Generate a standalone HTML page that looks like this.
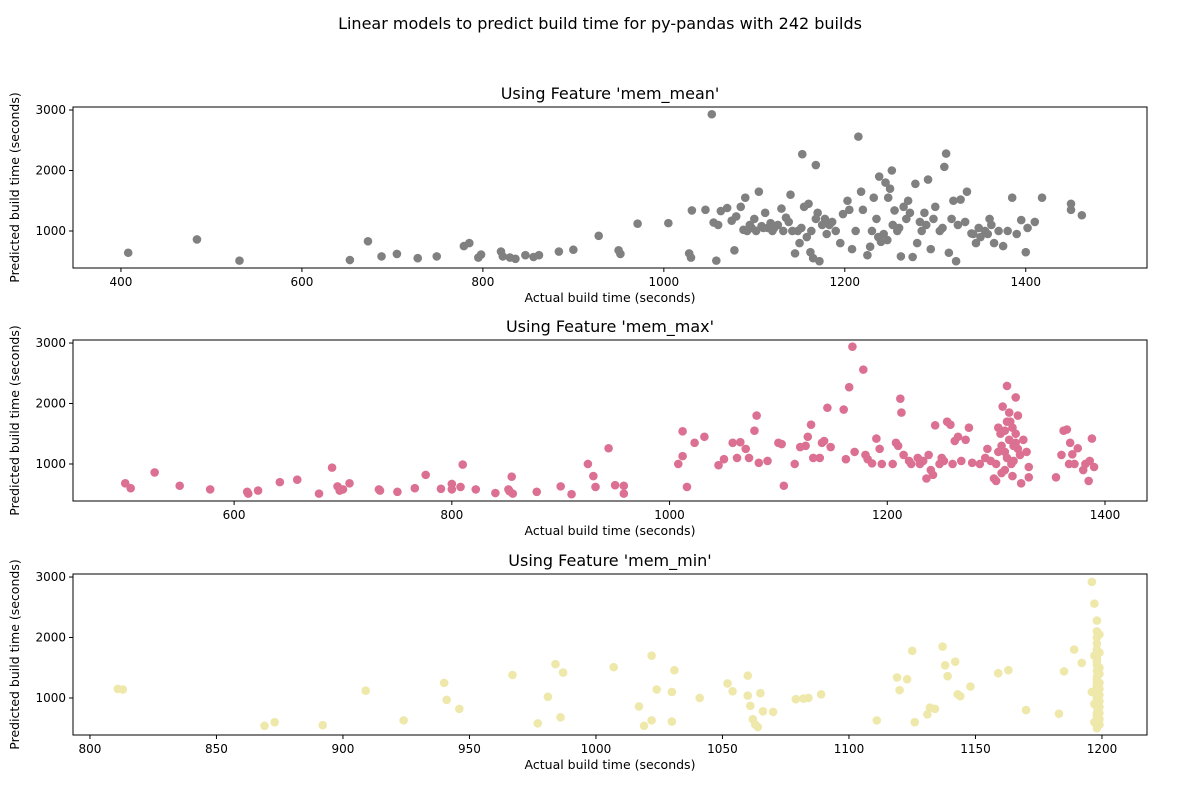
<!DOCTYPE html>
<html><head><meta charset="utf-8">
<style>
body{margin:0;background:#fff;font-family:"Liberation Sans","DejaVu Sans",sans-serif;}
svg text{font-family:"DejaVu Sans","Liberation Sans",sans-serif;fill:#000;}
</style></head>
<body>
<svg id="chart" width="1200" height="800" viewBox="0 0 1200 800" xmlns="http://www.w3.org/2000/svg">
<rect width="1200" height="800" fill="#fff"/>
<text x="600" y="29" font-size="16" text-anchor="middle">Linear models to predict build time for py-pandas with 242 builds</text>
</svg>
<script>
const titles1 = "Using Feature 'mem_mean'";
const titles2 = "Using Feature 'mem_max'";
const titles3 = "Using Feature 'mem_min'";
const xTicks1 = [400,600,800,1000,1200,1400];
const xTicks2 = [600,800,1000,1200,1400];
const xTicks3 = [800,850,900,950,1000,1050,1100,1150,1200];
const yTicks = [1000,2000,3000];
const meanX = [408,484,531,653,673,688,705,728,749,779,785,795,798,820,822,830,836,847,856,862,884,900,928,950,952,971,1005,1028,1030,1031,1046,1053,1055,1058,1063,1070,1075,1078,1080,1085,1090,1095,1100,1105,1110,1112,1118,1122,1130,1135,1140,1142,1145,1150,1153,1155,1160,1162,1165,1168,1170,1172,1178,1183,1195,1198,1203,1205,1208,1212,1215,1218,1220,1225,1228,1232,1235,1238,1240,1245,1248,1250,1252,1255,1258,1262,1265,1270,1275,1278,1280,1285,1288,1292,1295,1300,1305,1310,1312,1315,1318,1323,1328,1335,1340,1345,1350,1355,1360,1365,1370,1375,1380,1385,1390,1395,1400,1402,1410,1418,1450,1450,1462,1060,1088,1092,1097,1102,1108,1115,1120,1126,1132,1138,1148,1152,1158,1163,1168,1175,1180,1186,1190,1230,1237,1243,1247,1253,1260,1268,1272,1283,1290,1298,1308,1320,1325,1333,1342,1348,1358,1362];
const meanY = [640,860,510,520,830,580,620,550,580,750,800,560,610,660,580,560,540,600,570,600,660,690,920,680,620,1120,1130,630,560,1340,1350,2930,1140,510,1330,1380,1170,680,1240,1400,1550,1100,1200,1650,1050,1300,1130,1050,1370,1220,1600,1000,630,800,2270,1400,1450,650,550,2090,1300,500,1200,1100,800,1280,1500,1350,700,1000,2560,1650,1350,600,740,1550,1200,1900,820,1800,1550,1700,2000,1340,1000,580,1400,1500,570,1780,800,1000,1300,1850,700,1400,1000,2060,2280,640,1200,500,1520,1650,960,800,900,1000,1200,800,1000,750,1000,1550,950,1180,650,1050,1150,1550,1450,1350,1260,1100,1020,1000,1050,1000,1080,1050,1000,1100,1000,1150,1000,1050,900,1000,1200,1100,950,1150,1000,1000,900,950,850,1100,1050,1200,1300,1150,1100,1200,1050,1500,1100,1150,950,1050,950,1100];
const maxX = [500,505,527,550,578,612,613,622,642,658,678,690,695,697,700,706,733,734,750,766,776,790,800,800,810,808,822,840,852,855,853,856,878,900,910,925,930,932,944,950,958,958,1008,1012,1012,1016,1023,1032,1045,1050,1058,1062,1065,1070,1073,1078,1080,1082,1090,1100,1103,1105,1115,1120,1125,1127,1130,1132,1138,1140,1142,1145,1148,1160,1162,1165,1168,1170,1178,1180,1182,1186,1190,1193,1195,1205,1208,1210,1212,1213,1215,1220,1222,1228,1230,1233,1236,1238,1240,1242,1244,1248,1250,1252,1255,1258,1260,1262,1265,1268,1272,1275,1278,1285,1290,1292,1295,1298,1300,1302,1304,1305,1306,1308,1310,1310,1312,1312,1314,1315,1316,1318,1318,1320,1320,1322,1323,1325,1328,1330,1330,1300,1305,1308,1310,1315,1316,1302,1308,1313,1318,1355,1360,1362,1365,1367,1368,1370,1372,1375,1380,1382,1385,1386,1388,1390];
const maxY = [680,600,860,640,580,540,510,560,700,740,510,940,630,560,580,680,580,560,540,600,820,590,670,580,990,620,580,520,580,790,550,510,540,630,500,1000,800,620,1260,650,510,640,1000,1540,1130,620,1350,1450,980,1080,1350,1100,1360,1250,1100,1550,1800,1020,1050,1350,1330,640,1000,1280,1300,1450,1650,1100,1100,1350,1380,1930,1280,1900,1080,2270,2940,1200,2560,1150,1080,1010,1420,1250,1000,1000,1350,1300,2080,1850,1150,1050,1000,1100,1000,1050,760,1150,900,820,1640,1000,1100,1050,1700,1650,1000,1380,1450,1050,1400,1600,1020,1000,1100,1250,1050,760,720,1600,1500,1300,1950,1200,2290,1700,1850,1400,1000,1600,1050,2100,1500,1800,1250,1150,680,1400,1200,950,780,1000,850,900,1100,800,1300,1200,1550,1700,1350,780,1150,1550,1570,1000,1350,1160,1000,1260,900,1000,720,1050,1420,950];
const minX = [811,813,869,873,892,909,924,940,941,946,967,977,981,984,986,987,1007,1017,1019,1022,1022,1024,1030,1030,1031,1041,1052,1054,1060,1060,1061,1062,1063,1064,1065,1066,1070,1079,1082,1084,1089,1111,1119,1120,1123,1125,1126,1131,1132,1134,1137,1138,1139,1142,1143,1144,1148,1159,1163,1170,1183,1185,1189,1192,1196,1196,1197,1197,1197,1197,1198,1198,1198,1198,1198,1198,1198,1198,1198,1198,1198,1198,1198,1198,1198,1198,1198,1198,1198,1198,1198,1198,1198,1199,1199,1199,1199,1199,1199,1199,1199,1199,1199,1199,1199,1199,1199];
const minY = [1150,1140,540,600,550,1120,630,1250,970,820,1380,580,1020,1560,680,1420,1510,860,540,630,1700,1140,610,1100,1460,1000,1240,1110,1370,1040,870,650,560,520,1080,780,770,980,990,1000,1060,630,1340,1130,1310,1780,600,730,840,820,1850,1540,1360,1600,1060,1030,1190,1410,1460,800,740,1440,1800,1580,2920,1100,2560,900,1700,600,2280,2100,2000,1900,1800,1650,1550,1450,1350,1250,1150,1050,950,850,750,650,550,1600,1300,1000,700,500,1200,2050,1750,1500,1400,1250,1150,1050,950,850,750,650,560];

const svg = document.getElementById('chart');
const NS = 'http://www.w3.org/2000/svg';
function mk(tag, attrs, parent){const e=document.createElementNS(NS,tag);for(const k in attrs)e.setAttribute(k,attrs[k]);(parent||svg).appendChild(e);return e;}

function panel(key, title, top, xmin, xmax, xt, xs, ys, color){
  const L=73,R=1147,T=top,B=top+161,ymin=388,ymax=3050;
  const X=v=>L+(v-xmin)/(xmax-xmin)*(R-L);
  const Y=v=>B-(v-ymin)/(ymax-ymin)*(B-T);
  const g=mk('g',{});
  
  
  const t=mk('text',{x:(L+R)/2,y:T-8,'font-size':16,'text-anchor':'middle'},g);t.textContent=title;
  
  
  const n=Math.min(xs.length, ys.length);
  for(let i=0;i<n;i++){
    if(typeof xs[i]!=='number'||typeof ys[i]!=='number') continue;
    const c=mk('circle',{cx:X(xs[i]),cy:Y(ys[i]),r:4.3,fill:color},g);
    
    
  }
  const fr=mk('rect',{x:L,y:T,width:R-L,height:B-T,fill:'none',stroke:'#000','stroke-width':1},g);
  
  
  xt.forEach(v=>{const x=X(v);mk('line',{x1:x,x2:x,y1:B,y2:B+4,stroke:'#000'},g);
    const tx=mk('text',{x:x,y:B+18,'font-size':12,'text-anchor':'middle'},g);tx.textContent=v;
    
    });
  yTicks.forEach(v=>{const y=Y(v);mk('line',{x1:L-4,x2:L,y1:y,y2:y,stroke:'#000'},g);
    const ty=mk('text',{x:L-7,y:y+4,'font-size':12,'text-anchor':'end'},g);ty.textContent=v;
    
    });
  const xl=mk('text',{x:(L+R)/2,y:B+34,'font-size':12.5,'text-anchor':'middle'},g);xl.textContent='Actual build time (seconds)';
  
  
  const yl=mk('text',{x:0,y:0,'font-size':12.5,'text-anchor':'middle',transform:`translate(19,${(T+B)/2}) rotate(-90)`},g);yl.textContent='Predicted build time (seconds)';
  
  
}
panel('mem-mean', titles1, 107, 347, 1534, xTicks1, meanX, meanY, '#808080');
panel('mem-max', titles2, 340, 452, 1438.6, xTicks2, maxX, maxY, '#db7093');
panel('mem-min', titles3, 574, 793.3, 1217.8, xTicks3, minX, minY, '#eee8aa');
</script>
</body></html>
